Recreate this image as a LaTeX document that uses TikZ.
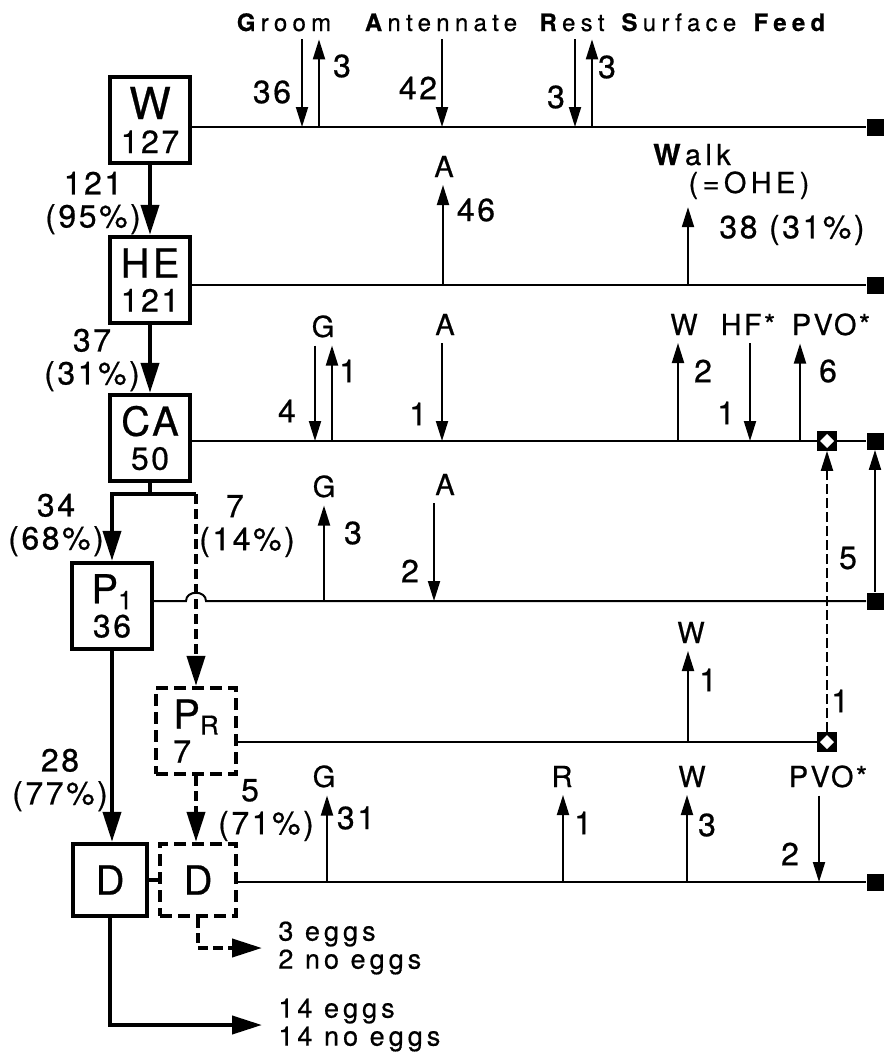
\documentclass[tikz,border=0pt]{standalone}
\usepackage{fontspec}
\setmainfont{TeX Gyre Heros}[LetterSpace=8, FakeBold=0.6]
\newfontfamily\hdrfont{TeX Gyre Heros}[LetterSpace=22, FakeBold=0.6]
\newfontfamily\widefont{TeX Gyre Heros}[LetterSpace=15, FakeBold=0.6]
\usetikzlibrary{arrows.meta, positioning, calc}

% box text: big letter over count
\newcommand{\stt}[2]{{\fontsize{20}{20}\selectfont #1}\\#2}
\newcommand{\sub}[2]{#1\raisebox{-3pt}{\fontsize{13}{13}\selectfont #2}}

\tikzset{
  state/.style={draw, line width=2.2pt, minimum width=40pt, minimum height=43pt,
    align=center, inner sep=0pt, font=\fontsize{16}{17}\selectfont},
  dstate/.style={state, dash pattern=on 6pt off 3pt},
  flow/.style={line width=2pt, -{Triangle[length=15pt,width=9pt]}},
  dflow/.style={flow, dash pattern=on 5pt off 2.5pt},
  ev/.style={line width=1pt, -{Triangle[length=10pt,width=6pt]}},
  row/.style={line width=1pt},
  num/.style={font=\fontsize{16}{16.5}\selectfont, inner sep=0pt, align=center},
  act/.style={font=\fontsize{14.5}{15}\selectfont, inner sep=0pt, outer sep=4pt, anchor=base},
  hdr/.style={font=\hdrfont\fontsize{12}{13}\selectfont, inner sep=0pt, outer sep=4pt, anchor=base},
  eggs/.style={font=\widefont\fontsize{13.5}{14}\selectfont, inner sep=0pt, inner xsep=8pt,
    anchor=west, align=left},
  stop/.style={fill, minimum size=8.5pt, inner sep=0pt},
  xbox/.style={draw, fill, line width=0.8pt, minimum size=9pt, inner sep=0pt,
    path picture={\fill[white] ([yshift=-1pt]path picture bounding box.north)
      -- ([xshift=-1pt]path picture bounding box.east)
      -- ([yshift=1pt]path picture bounding box.south)
      -- ([xshift=1pt]path picture bounding box.west) -- cycle;}}
}

\begin{document}
\begin{tikzpicture}[x=0.5pt, y=-0.5pt]
  \useasboundingbox (0,0) rectangle (885,1055);

  % states
  \node[state] (W) at (150,120) {\stt{\fontsize{22}{22}\selectfont W}{127}};
  \node[state] (HE) at (150,280) {\stt{HE}{121}};
  \node[state] (CA) at (150,438) {\stt{CA}{50}};
  \node[state] (P1) at (112,606) {\stt{\sub{P}{1}}{36}};
  \node[dstate, align=left] (PR) at (196,731) {\stt{\sub{P}{R}}{7}};
  \node[state, minimum width=37pt, minimum height=36pt] (D) at (110,880)
    {\fontsize{20}{20}\selectfont D};
  \node[dstate, minimum width=38pt, minimum height=36pt] (Dd) at (198,880)
    {\fontsize{20}{20}\selectfont D};

  % row ends
  \node[stop] (wS) at (875,127) {};
  \node[stop] (heS) at (875,285) {};
  \node[stop] (caS) at (875,441) {};
  \node[xbox] (caX) at (827,441) {};
  \node[stop] (p1S) at (875,601) {};
  \node[xbox] (prX) at (827,742) {};
  \node[stop] (dS) at (875,882) {};

  % rows
  \draw[row] (W.east |- wS) -- (wS);
  \draw[row] (HE.east |- heS) -- (heS);
  \draw[row] (CA.east |- caS) -- (caX) -- (caS);
  \draw[row] (P1.east |- p1S) -- ($(PR.north |- p1S)+(-10,0)$)
    .. controls +(0,-11) and +(0,-11) .. ($(PR.north |- p1S)+(10,0)$) -- (p1S);
  \draw[row] (PR.east |- prX) -- (prX);
  \draw[row] (Dd.east |- dS) -- (dS);

  % flow between states
  \coordinate (fork) at (150,494);
  \draw[flow] (W) -- (HE);
  \draw[flow] (HE) -- (CA);
  \draw[flow] (CA.south) -- (fork) -| (P1.north);
  \draw[line width=2pt] (fork) -- (fork -| PR.north);
  \draw[dflow] (fork -| PR.north) -- (PR.north);
  \draw[flow] (P1.south) -- (P1.south |- D.north);
  \draw[dflow] (PR.south) -- (PR.south |- Dd.north);
  \draw[line width=2pt] (D.east) -- (Dd.west);
  \node[eggs] (eg1) at (262,948) {3 eggs\\2 no eggs};
  \node[eggs] (eg2) at (262,1025) {14 eggs\\14 no eggs};
  \draw[dflow] (Dd.south) |- (eg1.west);
  \draw[flow] (D.south) |- (eg2.west);

  \node[num] (n1) at (93,203) {121\\(95\%)};
  \node[num] (n2) at (92,360) {37\\(31\%)};
  \node[num] (n3) at (56,525) {34\\(68\%)};
  \node[num] (n4) at (247,526) {7\hspace*{12pt}\\(14\%)};
  \node[num] (n5) at (60,780) {28\\(77\%)};
  \node[num] (n6) at (266,810) {5\hspace*{16pt}\\(71\%)};

  % headings
  \node[hdr] (groom) at (284,31) {\textbf{G}room};
  \node[hdr] (ant) at (441,31) {\textbf{A}ntennate};
  \node[hdr] (rest) at (572,31) {\textbf{R}est};
  \node[hdr] (surf) at (726,31) {\textbf{S}urface \textbf{Feed}};

  % W row
  \coordinate (wg1) at (302,127);
  \coordinate (wg2) at (319,127);
  \coordinate (wa) at (442,127);
  \coordinate (wr1) at (575,127);
  \coordinate (wr2) at (592,127);
  \draw[ev] (groom.south -| wg1) -- (wg1);
  \draw[ev] (wg2) -- (groom.south -| wg2);
  \draw[ev] (ant.south -| wa) -- (wa);
  \draw[ev] (rest.south -| wr1) -- (wr1);
  \draw[ev] (wr2) -- (rest.south -| wr2);
  \node[num] at (272,92) {36};
  \node[num] at (342,66) {3};
  \node[num] at (418,88) {42};
  \node[num] at (556,97) {3};
  \node[num] at (607,67) {3};

  % HE row
  \node[act] (heA) at (444,177) {A};
  \node[act, font=\widefont\fontsize{14.5}{15}\selectfont] (walk) at (692,165) {\textbf{W}alk};
  \node[act, font=\widefont\fontsize{14.5}{15}\selectfont] (ohe) at (749,193) {(=OHE)};
  \coordinate (hea) at (443,285);
  \coordinate (hew) at (688,285);
  \draw[ev] (hea) -- (heA.south -| hea);
  \draw[ev] (hew) -- (ohe.south -| hew);
  \node[num] at (476,210) {46};
  \node[num] at (792,230) {38 (31\%)};

  % CA row
  \node[act] (caG) at (323,337) {G};
  \node[act] (caA) at (445,335) {A};
  \node[act] (caW) at (684,335) {W};
  \node[act] (caHF) at (748,335) {HF*};
  \node[act] (caPV) at (831,335) {PVO*};
  \coordinate (cag1) at (315,441);
  \coordinate (cag2) at (332,441);
  \coordinate (caa) at (442,441);
  \coordinate (caw) at (678,441);
  \coordinate (cahf) at (750,441);
  \coordinate (capv) at (800,441);
  \draw[ev] (caG.south -| cag1) -- (cag1);
  \draw[ev] (cag2) -- (caG.south -| cag2);
  \draw[ev] (caA.south -| caa) -- (caa);
  \draw[ev] (caw) -- (caW.south -| caw);
  \draw[ev] (caHF.south -| cahf) -- (cahf);
  \draw[ev] (capv) -- (caPV.south -| capv);
  \node[num] at (287,411) {4};
  \node[num] at (348,371) {1};
  \node[num] at (418,414) {1};
  \node[num] at (703,371) {2};
  \node[num] at (726,413) {1};
  \node[num] at (828,371) {6};

  % P1 row
  \node[act] (p1G) at (324,497) {G};
  \node[act] (p1A) at (445,495) {A};
  \coordinate (p1g) at (324,601);
  \coordinate (p1a) at (434,601);
  \draw[ev] (p1g) -- (p1G.south -| p1g);
  \draw[ev] (p1A.south -| p1a) -- (p1a);
  \node[num] at (353,533) {3};
  \node[num] at (410,571) {2};

  % returns to CA
  \draw[ev] (p1S) -- (caS);
  \draw[ev, dash pattern=on 5pt off 2pt] (prX) -- (caX);
  \node[num] at (848,558) {5};
  \node[num] at (840,701) {1};

  % PR row
  \node[act] (prW) at (691,643) {W};
  \coordinate (prw) at (688,742);
  \draw[ev] (prw) -- (prW.south -| prw);
  \node[num] at (708,680) {1};

  % D row
  \node[act] (dG) at (324,787) {G};
  \node[act] (dR) at (562,787) {R};
  \node[act] (dW) at (692,787) {W};
  \node[act] (dPV) at (828,787) {PVO*};
  \coordinate (dg) at (327,882);
  \coordinate (dr) at (563,882);
  \coordinate (dw) at (687,882);
  \coordinate (dpv) at (819,882);
  \draw[ev] (dg) -- (dG.south -| dg);
  \draw[ev] (dr) -- (dR.south -| dr);
  \draw[ev] (dw) -- (dW.south -| dw);
  \draw[ev] (dPV.south -| dpv) -- (dpv);
  \node[num] at (356,818) {31};
  \node[num] at (583,823) {1};
  \node[num] at (707,825) {3};
  \node[num] at (790,854) {2};
\end{tikzpicture}
\end{document}
